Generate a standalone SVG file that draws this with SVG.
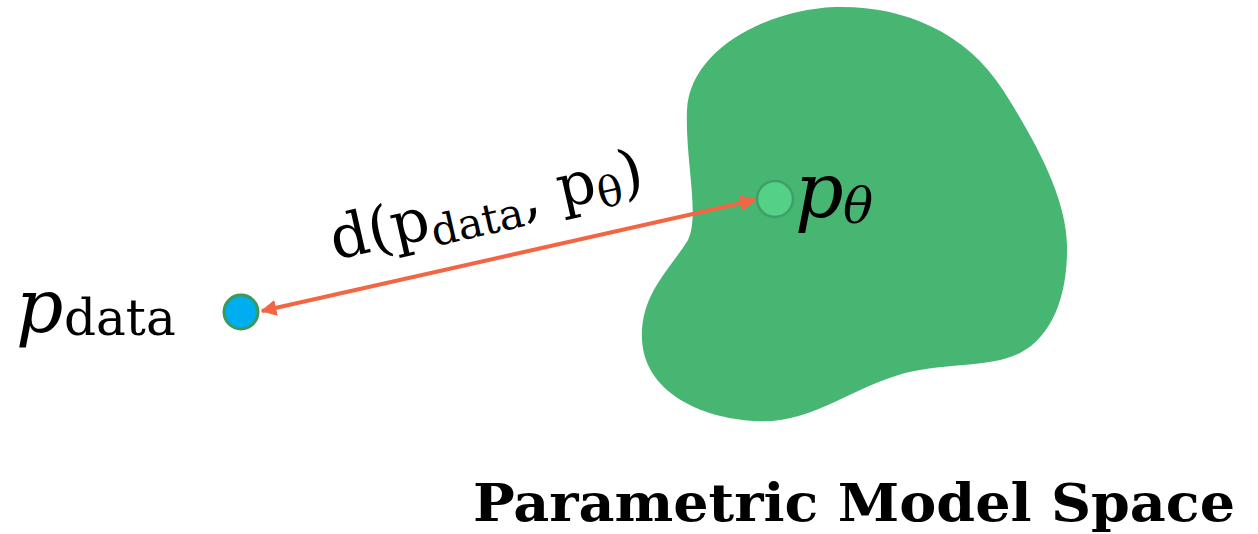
<svg xmlns="http://www.w3.org/2000/svg" width="1258" height="534" viewBox="0 0 1258 534">
<style>
.m{font-family:"DejaVu Serif","Liberation Serif",serif;fill:#000}
.i{font-style:italic}
</style>
<defs>
<marker id="ah" viewBox="0 0 10 10" refX="9" refY="5" markerWidth="4" markerHeight="4" orient="auto-start-reverse" markerUnits="strokeWidth">
<path d="M0,0 L10,5 L0,10 Z" fill="#F26644"/>
</marker>
</defs>
<rect width="1258" height="534" fill="#fff"/>
<g id="model-space">
<path d="M 835 7 C 900 5, 965 30, 1003 90 C 1040 148, 1066 200, 1067 245 C 1068 290, 1055 335, 1020 353 C 990 368, 950 362, 905 373 C 850 388, 810 425, 755 421 C 700 418, 645 392, 642 340 C 640 295, 668 272, 688 240 C 700 215, 685 160, 687 110 C 690 50, 765 10, 835 7 Z" fill="#48B673"/>
</g>
<g id="connectors">
<line x1="262" y1="311" x2="755" y2="200" stroke="#F26644" stroke-width="4" marker-start="url(#ah)" marker-end="url(#ah)"/>
<text class="m" transform="translate(335,260) rotate(-12.8)" font-size="60">d(p<tspan font-size="42" dy="9">data</tspan><tspan dy="-9">, p</tspan><tspan font-size="42" dy="9">θ</tspan><tspan dy="-9">)</tspan></text>
</g>
<g id="p-data">
<circle cx="241" cy="312" r="17" fill="#00AEEF" stroke="#3A9A5A" stroke-width="3"/>
<text class="m i" x="16" y="332" font-size="74">p</text>
<text class="m" x="64" y="335" font-size="50">data</text>
</g>
<g id="p-theta">
<circle cx="775" cy="199" r="18" fill="#55D187" stroke="#3DA068" stroke-width="2.5"/>
<text class="m i" x="795" y="217" font-size="76">p</text>
<text class="m i" x="843" y="223" font-size="50">θ</text>
</g>
<g id="title">
<text x="473" y="521" font-family="DejaVu Serif, Liberation Serif, serif" font-weight="bold" font-size="52" textLength="762" lengthAdjust="spacingAndGlyphs">Parametric Model Space</text>
</g>
</svg>
